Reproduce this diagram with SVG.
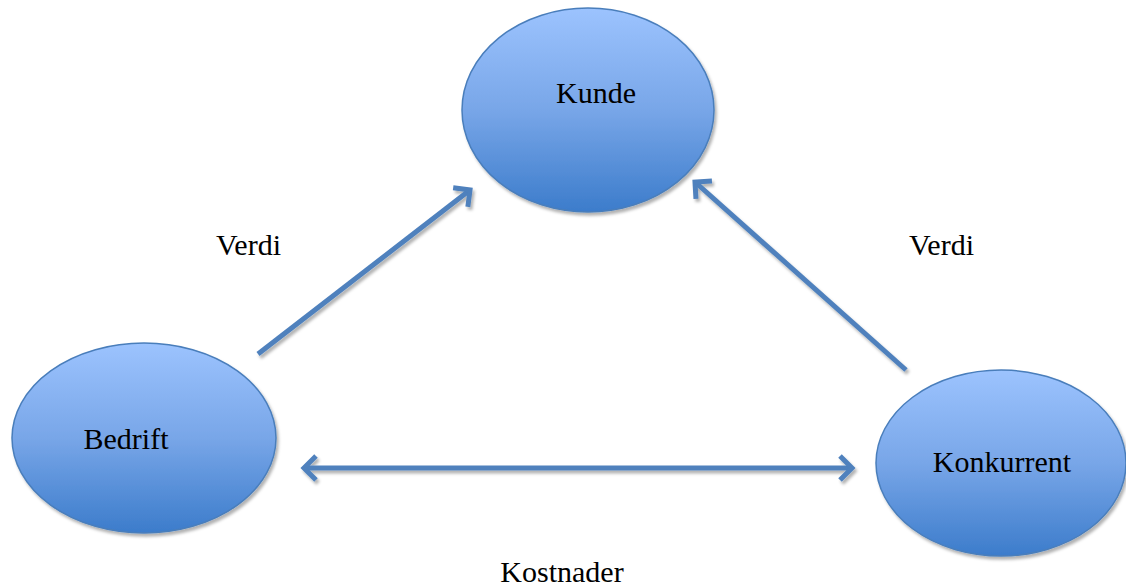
<svg xmlns="http://www.w3.org/2000/svg" width="1126" height="587" viewBox="0 0 1126 587">
<defs>
<linearGradient id="g" x1="0" y1="0" x2="0" y2="1">
<stop offset="0" stop-color="#9CC3FE"/>
<stop offset="0.5" stop-color="#78A6E8"/>
<stop offset="1" stop-color="#3C7CCB"/>
</linearGradient>
<filter id="sh" filterUnits="userSpaceOnUse" x="0" y="0" width="1126" height="587">
<feDropShadow dx="2" dy="3" stdDeviation="1.5" flood-color="#000" flood-opacity="0.3"/>
</filter>
<marker id="ah" viewBox="-16 -16 32 32" markerWidth="32" markerHeight="32" refX="0" refY="0" orient="auto-start-reverse" markerUnits="userSpaceOnUse">
<path d="M-12,-12 L0,0 L-12,12" fill="none" stroke="#4F81BD" stroke-width="5" stroke-linecap="butt"/>
</marker>
</defs>
<style>
.node{fill:url(#g);stroke:#4A7EBB;stroke-width:1.5;filter:url(#sh)}
.t{font-family:"Liberation Serif","Times New Roman",serif;font-size:30px;fill:#000}
.c{fill:none;stroke:#4F81BD;stroke-width:5;filter:url(#sh)}
</style>
<g id="connectors">
<line class="c" x1="258" y1="354" x2="470" y2="190" marker-end="url(#ah)"/>
<line class="c" x1="906" y1="370" x2="695" y2="182" marker-end="url(#ah)"/>
<line class="c" x1="304" y1="468" x2="852" y2="468" marker-start="url(#ah)" marker-end="url(#ah)"/>
</g>
<g id="kunde">
<ellipse class="node" cx="588" cy="110" rx="126" ry="102"/>
<text class="t" x="596" y="103" text-anchor="middle">Kunde</text>
</g>
<g id="bedrift">
<ellipse class="node" cx="144" cy="438" rx="132" ry="95"/>
<text class="t" x="126" y="449" text-anchor="middle">Bedrift</text>
</g>
<g id="konkurrent">
<ellipse class="node" cx="1001" cy="463" rx="125" ry="93"/>
<text class="t" x="1002" y="472" text-anchor="middle">Konkurrent</text>
</g>
<g id="labels">
<text class="t" x="216" y="255">Verdi</text>
<text class="t" x="909" y="255">Verdi</text>
<text class="t" x="562" y="582" text-anchor="middle">Kostnader</text>
</g>
</svg>
